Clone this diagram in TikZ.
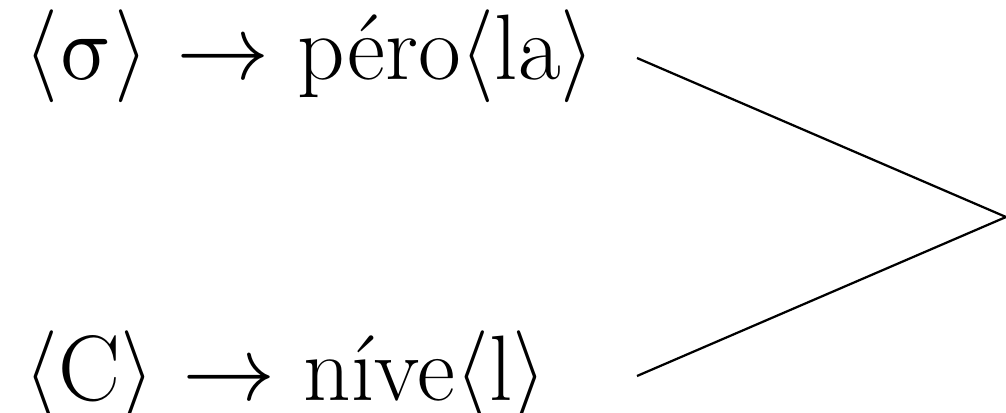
\documentclass[tikz,border=0pt]{standalone}
\usepackage{fontspec}
\newfontfamily\mathsym{latinmodern-math.otf}
\usetikzlibrary{positioning}
\tikzset{
  rule/.style={font=\fontsize{24.88}{30}\selectfont, inner sep=0pt, anchor=base west},
  branch/.style={line width=0.6pt}
}

\begin{document}
\begin{tikzpicture}[x=0.2675pt,y=0.2675pt]
  \useasboundingbox (0,0) rectangle (1006,412);
  % the two rewrite rules
  \node[rule] (upper) at (24,333) {\textlangle{\mathsym σ}\textrangle{} {\mathsym →} péro\textlangle la\textrangle};
  \node[rule] (lower) at (24,12) {\textlangle C\textrangle{} {\mathsym →} níve\textlangle l\textrangle};
  % where the branches meet
  \coordinate (upstart) at (637,354);
  \coordinate (lowstart) at (637,36);
  \coordinate (join) at (1006,195);
  \draw[branch] (upstart) -- (join);
  \draw[branch] (lowstart) -- (join);
\end{tikzpicture}
\end{document}
